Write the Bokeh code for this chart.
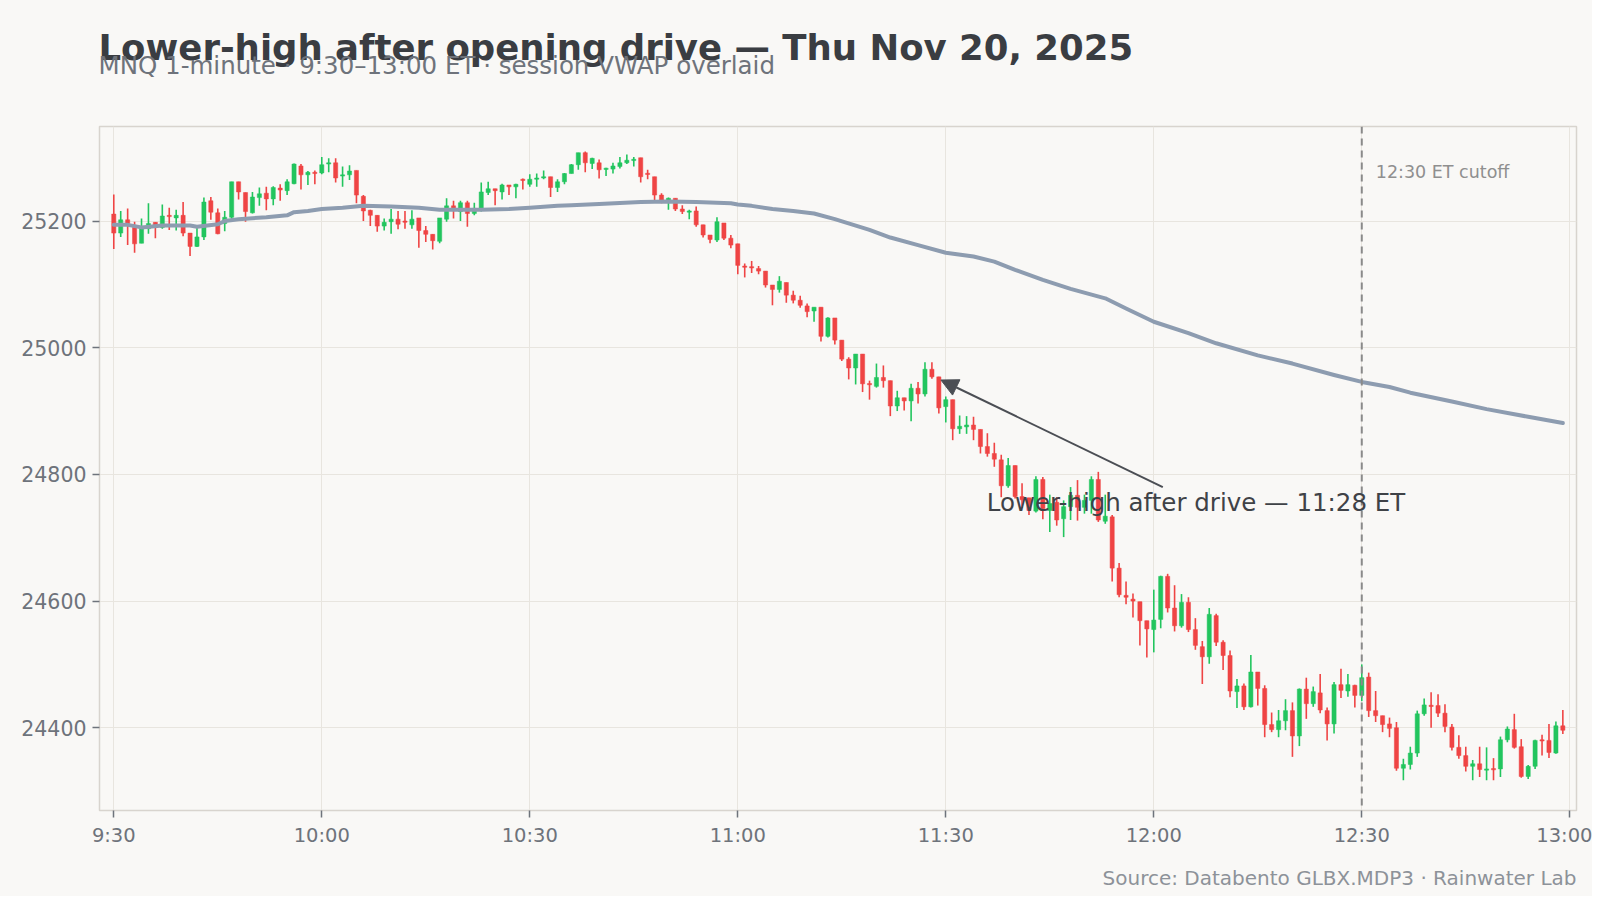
from bokeh.plotting import figure
from bokeh.layouts import column
from bokeh.models import ColumnDataSource, FixedTicker, Span, Label, Arrow, NormalHead, Range1d
from bokeh.embed import file_html
from bokeh.resources import INLINE

# ---------------- data ----------------
# minutes since 9:30 ET, one candle per minute (9:30 .. 12:59)
minute = list(range(210))

opens = [
    25211, 25181, 25202, 25190, 25165, 25188, 25198, 25190, 25209, 25205,
    25209, 25181, 25160, 25175, 25232, 25213, 25196, 25206, 25262, 25245,
    25213, 25237, 25244, 25235, 25252, 25248, 25259, 25287, 25273, 25277,
    25276, 25290, 25292, 25271, 25273, 25280, 25239, 25217, 25209, 25192,
    25199, 25203, 25200, 25194, 25205, 25185, 25179, 25168, 25203, 25224,
    25215, 25229, 25212, 25220, 25245, 25251, 25246, 25257, 25254, 25266,
    25258, 25266, 25268, 25270, 25253, 25262, 25275, 25289, 25308, 25291,
    25292, 25282, 25282, 25286, 25292, 25296, 25300, 25275, 25270, 25241,
    25233, 25236, 25219, 25214, 25216, 25194, 25178, 25170, 25197, 25173,
    25164, 25129, 25128, 25125, 25121, 25099, 25092, 25103, 25083, 25075,
    25066, 25058, 25064, 25018, 25047, 25012, 24982, 24968, 24990, 24943,
    24939, 24953, 24948, 24908, 24921, 24916, 24936, 24927, 24966, 24954,
    24907, 24918, 24872, 24875, 24878, 24871, 24844, 24833, 24823, 24782,
    24814, 24765, 24763, 24742, 24792, 24743, 24756, 24730, 24749, 24767,
    24748, 24759, 24792, 24726, 24733, 24652, 24609, 24603, 24599, 24569,
    24555, 24571, 24639, 24589, 24561, 24598, 24555, 24528, 24512, 24577,
    24535, 24514, 24457, 24466, 24433, 24488, 24462, 24405, 24397, 24411,
    24427, 24387, 24461, 24438, 24455, 24427, 24406, 24468, 24458, 24467,
    24451, 24480, 24427, 24419, 24406, 24400, 24336, 24342, 24360, 24422,
    24435, 24435, 24423, 24401, 24369, 24356, 24339, 24343, 24333, 24335,
    24335, 24381, 24397, 24370, 24323, 24339, 24381, 24380, 24360, 24403,
]
highs = [
    25242, 25216, 25220, 25199, 25204, 25228, 25198, 25226, 25221, 25218,
    25230, 25181, 25191, 25237, 25238, 25220, 25216, 25262, 25262, 25245,
    25246, 25253, 25254, 25255, 25258, 25266, 25291, 25290, 25279, 25280,
    25301, 25299, 25299, 25286, 25288, 25280, 25241, 25218, 25209, 25204,
    25219, 25216, 25216, 25217, 25205, 25192, 25179, 25205, 25236, 25232,
    25232, 25232, 25229, 25261, 25262, 25251, 25259, 25257, 25259, 25267,
    25274, 25275, 25280, 25270, 25266, 25276, 25290, 25308, 25310, 25300,
    25297, 25284, 25292, 25301, 25305, 25301, 25300, 25281, 25270, 25244,
    25237, 25236, 25225, 25218, 25223, 25194, 25178, 25206, 25197, 25178,
    25164, 25133, 25137, 25129, 25121, 25099, 25113, 25103, 25090, 25082,
    25070, 25064, 25064, 25048, 25047, 25012, 24985, 24990, 24990, 24948,
    24975, 24972, 24948, 24932, 24921, 24943, 24946, 24977, 24977, 24954,
    24923, 24918, 24893, 24892, 24891, 24871, 24865, 24850, 24831, 24826,
    24814, 24786, 24763, 24797, 24796, 24768, 24764, 24759, 24780, 24791,
    24768, 24797, 24804, 24768, 24736, 24660, 24631, 24612, 24599, 24569,
    24618, 24640, 24643, 24625, 24611, 24606, 24573, 24537, 24589, 24580,
    24538, 24522, 24477, 24470, 24515, 24488, 24467, 24424, 24428, 24445,
    24440, 24462, 24479, 24465, 24485, 24432, 24472, 24493, 24485, 24468,
    24500, 24487, 24458, 24419, 24416, 24409, 24351, 24370, 24427, 24446,
    24456, 24453, 24437, 24406, 24388, 24370, 24349, 24370, 24369, 24352,
    24386, 24402, 24422, 24382, 24341, 24381, 24389, 24406, 24410, 24428,
]
lows = [
    25156, 25175, 25162, 25150, 25165, 25180, 25173, 25188, 25186, 25185,
    25176, 25145, 25159, 25170, 25202, 25179, 25184, 25203, 25234, 25199,
    25212, 25224, 25217, 25225, 25232, 25241, 25258, 25250, 25257, 25258,
    25274, 25277, 25261, 25254, 25265, 25228, 25200, 25192, 25183, 25185,
    25180, 25187, 25188, 25188, 25158, 25167, 25155, 25165, 25199, 25204,
    25200, 25191, 25209, 25215, 25241, 25225, 25234, 25241, 25236, 25250,
    25254, 25254, 25266, 25238, 25246, 25258, 25275, 25281, 25277, 25282,
    25267, 25271, 25275, 25283, 25290, 25286, 25261, 25266, 25233, 25228,
    25218, 25216, 25211, 25203, 25191, 25174, 25165, 25167, 25170, 25157,
    25116, 25111, 25118, 25116, 25095, 25067, 25087, 25071, 25070, 25063,
    25048, 25041, 25010, 25016, 25005, 24979, 24950, 24942, 24930, 24918,
    24937, 24937, 24892, 24900, 24901, 24884, 24912, 24923, 24951, 24896,
    24882, 24854, 24864, 24864, 24854, 24833, 24828, 24812, 24764, 24779,
    24762, 24747, 24736, 24740, 24729, 24709, 24719, 24701, 24728, 24727,
    24738, 24738, 24725, 24722, 24631, 24606, 24595, 24574, 24530, 24511,
    24519, 24557, 24582, 24552, 24558, 24551, 24523, 24469, 24501, 24529,
    24491, 24448, 24431, 24428, 24432, 24435, 24385, 24393, 24385, 24396,
    24354, 24371, 24414, 24433, 24423, 24380, 24391, 24447, 24449, 24432,
    24442, 24417, 24409, 24393, 24385, 24332, 24317, 24334, 24354, 24419,
    24400, 24417, 24393, 24364, 24351, 24331, 24317, 24322, 24317, 24317,
    24322, 24377, 24367, 24321, 24319, 24335, 24356, 24352, 24359, 24390,
]
closes = [
    25181, 25202, 25196, 25164, 25190, 25196, 25193, 25208, 25207, 25209,
    25181, 25160, 25175, 25230, 25214, 25180, 25206, 25262, 25246, 25215,
    25238, 25243, 25235, 25253, 25249, 25262, 25290, 25273, 25277, 25275,
    25289, 25292, 25268, 25273, 25279, 25241, 25216, 25209, 25192, 25198,
    25203, 25195, 25198, 25203, 25185, 25179, 25169, 25205, 25224, 25220,
    25229, 25212, 25220, 25246, 25251, 25248, 25257, 25254, 25258, 25264,
    25266, 25268, 25270, 25253, 25262, 25275, 25289, 25308, 25292, 25299,
    25281, 25283, 25287, 25292, 25296, 25297, 25270, 25274, 25241, 25233,
    25236, 25219, 25215, 25216, 25194, 25178, 25171, 25199, 25173, 25162,
    25130, 25127, 25126, 25121, 25099, 25092, 25105, 25083, 25075, 25067,
    25057, 25064, 25018, 25047, 25012, 24982, 24968, 24990, 24943, 24942,
    24953, 24948, 24908, 24921, 24916, 24936, 24927, 24966, 24954, 24905,
    24918, 24872, 24876, 24878, 24871, 24844, 24833, 24824, 24782, 24814,
    24765, 24760, 24743, 24792, 24746, 24754, 24728, 24749, 24767, 24748,
    24759, 24792, 24728, 24734, 24652, 24610, 24606, 24600, 24569, 24556,
    24570, 24639, 24589, 24561, 24598, 24555, 24530, 24512, 24579, 24535,
    24514, 24458, 24466, 24433, 24488, 24462, 24405, 24397, 24411, 24427,
    24387, 24461, 24438, 24457, 24428, 24406, 24468, 24459, 24468, 24451,
    24479, 24427, 24419, 24405, 24399, 24336, 24342, 24360, 24422, 24436,
    24434, 24423, 24402, 24369, 24356, 24339, 24343, 24334, 24335, 24334,
    24381, 24398, 24369, 24323, 24339, 24380, 24379, 24361, 24403, 24396,
]

# session VWAP at these minutes
vwap_minute = [0, 2, 4, 7, 11, 12, 15, 16, 18, 22, 25, 26, 28, 30, 33, 36, 40,
               44, 47, 53, 57, 60, 64, 66, 70, 76, 80, 84, 89, 90, 92, 95, 98,
               101, 104, 109, 112, 116, 120, 124, 127, 130, 134, 138, 143, 146,
               150, 155, 159, 165, 170, 176, 180, 184, 187, 193, 198, 204, 209]
vwap_value = [25194, 25194, 25190, 25193, 25193, 25191, 25195, 25200, 25203,
              25206, 25209, 25214, 25216, 25219, 25221, 25224, 25223, 25221,
              25218, 25218, 25219, 25221, 25224, 25225, 25227, 25230, 25231,
              25230, 25228, 25226, 25224, 25219, 25216, 25212, 25203, 25186,
              25174, 25162, 25150, 25144, 25136, 25123, 25107, 25093, 25078,
              25062, 25041, 25023, 25007, 24988, 24975, 24957, 24946, 24938,
              24929, 24915, 24903, 24891, 24881]

tick_minutes = [0, 30, 60, 90, 120, 150, 180, 210]
tick_labels = ["9:30", "10:00", "10:30", "11:00", "11:30", "12:00", "12:30", "13:00"]
price_ticks = [24400, 24600, 24800, 25000, 25200]

cutoff_minute = 180
annot_minute = 118          # 11:28 ET lower-high
annot_text = "Lower-high after drive \u2014 11:28 ET"

title_text = "Lower-high after opening drive \u2014 Thu Nov 20, 2025"
subtitle_text = "MNQ 1-minute \u00b7 9:30\u201313:00 ET \u00b7 session VWAP overlaid"
source_text = "Source: Databento GLBX.MDP3 \u00b7 Rainwater Lab"

# ---------------- styling ----------------
BG = "#f9f8f6"
UP = "#22c55e"
DN = "#ef4444"
FONT = "DejaVu Sans"
W = 1592
FRAME_L, FRAME_R = 99, 1576
HEADER_H = 124
MAIN_H = 739
FOOTER_H = 33


def text_strip(h):
    # the column aligns this strip's frame with the main frame, so the
    # x range is given in page pixels of that frame span
    f = figure(width=W, height=h, output_backend="svg", toolbar_location=None,
               x_range=Range1d(FRAME_L, FRAME_R), y_range=Range1d(0, h),
               x_axis_location=None, y_axis_location=None,
               min_border=0, min_border_left=FRAME_L, min_border_right=W - FRAME_R,
               min_border_top=0, min_border_bottom=0)
    f.grid.visible = False
    f.outline_line_color = None
    f.background_fill_color = BG
    f.border_fill_color = BG
    return f


# header with title + subtitle (they overlap, as in the reference)
header = text_strip(HEADER_H)
header.add_layout(Label(x=98, y=HEADER_H - 47, text=title_text, text_font=FONT,
                        text_font_size="35.5px", text_font_style="bold",
                        text_color="#3a3d42", text_baseline="alphabetic"))
header.add_layout(Label(x=98, y=HEADER_H - 65, text=subtitle_text, text_font=FONT,
                        text_font_size="24.5px", text_color="#6e737b",
                        text_baseline="alphabetic"))

# footer with source
footer = text_strip(FOOTER_H)
footer.add_layout(Label(x=1576, y=FOOTER_H - 14, text=source_text, text_font=FONT,
                        text_font_size="20px", text_color="#8d9299",
                        text_align="right", text_baseline="alphabetic"))

# ---------------- main chart ----------------
colors = [UP if c >= o else DN for o, c in zip(opens, closes)]
body_top, body_bot = [], []
for o, c in zip(opens, closes):
    t, b = max(o, c), min(o, c)
    if t - b < 2.0:
        m = (t + b) / 2.0
        t, b = m + 1.0, m - 1.0
    body_top.append(t)
    body_bot.append(b)

src = ColumnDataSource(dict(x=minute, o=opens, h=highs, l=lows, c=closes,
                            top=body_top, bot=body_bot, color=colors))

p = figure(width=W, height=MAIN_H, output_backend="svg", toolbar_location=None,
           x_range=Range1d(-2.06, 210.97), y_range=Range1d(24269.3, 25349.3),
           min_border_left=FRAME_L, min_border_right=W - FRAME_R, min_border_top=2,
           min_border_bottom=53)
p.background_fill_color = BG
p.border_fill_color = BG
p.outline_line_color = "#d8d4ce"
p.outline_line_width = 1.5

p.xaxis.ticker = FixedTicker(ticks=tick_minutes)
p.xaxis.major_label_overrides = {m: s for m, s in zip(tick_minutes, tick_labels)}
p.yaxis.ticker = FixedTicker(ticks=price_ticks)
for ax in (p.xaxis, p.yaxis):
    ax.axis_line_color = None
    ax.major_tick_line_color = "#6e737b"
    ax.major_tick_line_width = 1.5
    ax.major_tick_out = 7
    ax.major_tick_in = 0
    ax.minor_tick_line_color = None
    ax.major_label_text_font = FONT
    ax.major_label_text_color = "#6e737b"
p.xaxis.major_label_text_font_size = "19.5px"
p.yaxis.major_label_text_font_size = "20.5px"
p.xaxis.major_label_standoff = 6
p.yaxis.major_label_standoff = 6

p.xgrid.grid_line_color = "#e8e5df"
p.ygrid.grid_line_color = "#e8e5df"
p.xgrid.grid_line_width = 1
p.ygrid.grid_line_width = 1

# candles
p.segment(x0="x", y0="l", x1="x", y1="h", source=src, line_color="color", line_width=1.6)
p.vbar(x="x", width=0.6, top="top", bottom="bot", source=src,
       fill_color="color", line_color="color", line_width=0.5)

# VWAP
p.line(vwap_minute, vwap_value, line_color="#8d9cb0", line_width=4,
       line_join="round", line_cap="round")

# 12:30 cutoff
p.add_layout(Span(location=cutoff_minute, dimension="height", line_color="#8a8a8a",
                  line_width=2, line_dash="7 5"))
p.add_layout(Label(x=cutoff_minute, y=639, x_units="data", y_units="screen", x_offset=14,
                   text="12:30 ET cutoff", text_font=FONT, text_font_size="17.5px",
                   text_color="#8f8f8f", text_baseline="alphabetic"))

# annotation arrow + text
p.add_layout(Arrow(x_start=151.3, y_start=24780, x_end=annot_minute + 1.3,
                   y_end=24949, line_color="#4b4e54", line_width=2,
                   end=NormalHead(size=17, fill_color="#4b4e54", line_color="#4b4e54")))
p.add_layout(Label(x=125.9, y=24756, text=annot_text, text_font=FONT,
                   text_font_size="24.5px", text_color="#3f4247",
                   text_baseline="alphabetic"))

page = column(header, p, footer, spacing=0)
page.styles = {"background-color": BG}

html = file_html(page, INLINE, title="Lower-high after opening drive")
html = html.replace("<body>", '<body style="background:%s">' % BG, 1)
open("out.html", "w").write(html)
